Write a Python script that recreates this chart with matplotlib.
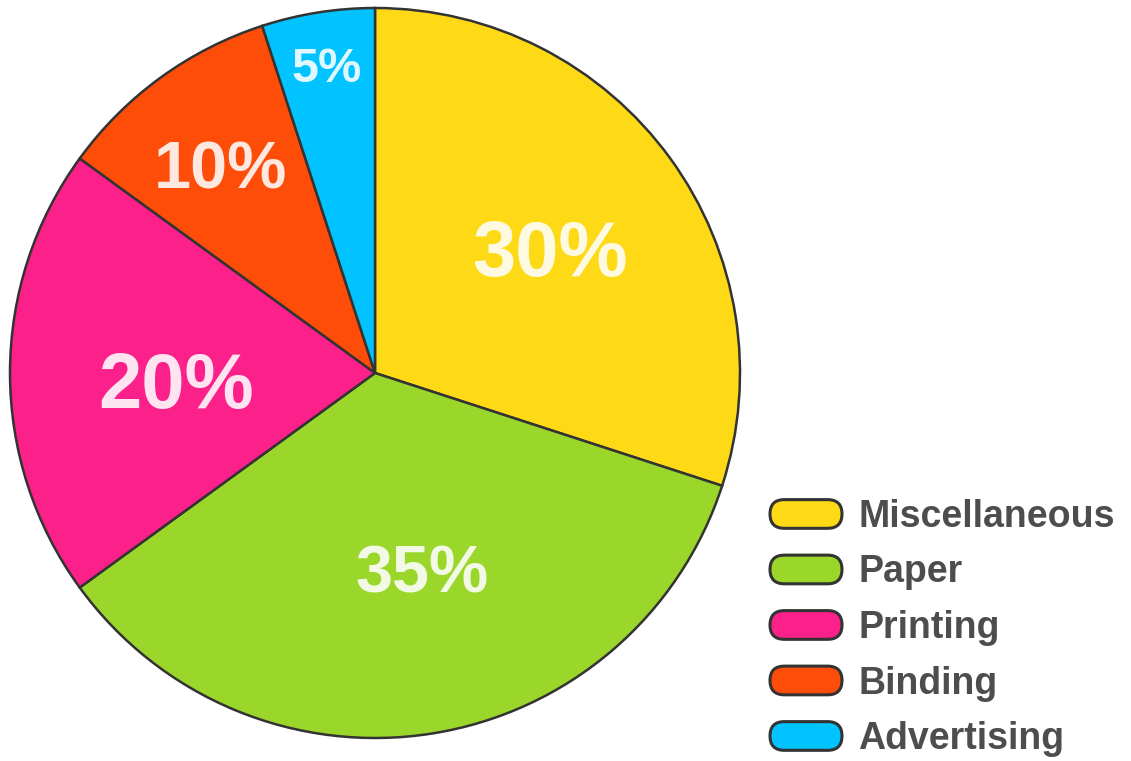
import numpy as np
import matplotlib
matplotlib.use('Agg')
import matplotlib.pyplot as plt
from matplotlib.patches import FancyBboxPatch, Wedge
from matplotlib.legend_handler import HandlerPatch

#################### data ####################
categories = ['Miscellaneous', 'Paper', 'Printing', 'Binding', 'Advertising']
shares = [30, 35, 20, 10, 5]    # percent of total cost
colors = ['#FDD916', '#9BD62B', '#FC218A', '#FE4D09', '#00C3FF']

# label placement: distance from centre (fraction of radius), angle shift (deg), font size (pt)
label_r = [0.59, 0.55, 0.545, 0.71, 0.855]
label_shift = [-0.5, 4.6, 2.0, 0.5, 0.0]
label_size = [56, 48, 56, 48, 35]

plt.rcParams['font.family'] = ['Liberation Sans', 'DejaVu Sans']


class HandlerPill(HandlerPatch):
    # rounded "pill" legend keys instead of plain rectangles
    def create_artists(self, legend, orig_handle, xdescent, ydescent,
                       width, height, fontsize, trans):
        p = FancyBboxPatch((-xdescent, -ydescent), width, height,
                           boxstyle='round,pad=0,rounding_size=%f' % (height / 2))
        self.update_prop(p, orig_handle, legend)
        p.set_linewidth(2.2)
        p.set_transform(trans)
        return [p]


fig = plt.figure(figsize=(11.31, 7.61), dpi=100)
ax = fig.add_axes([10/1131, 23/761, 730/1131, 730/761])

wedges, _ = ax.pie(shares, colors=colors, startangle=90, counterclock=False,
                   wedgeprops=dict(edgecolor='#333333', linewidth=1.8))
for w in wedges:
    w.set_clip_on(False)
ax.set_xlim(-1, 1)
ax.set_ylim(-1, 1)
ax.set_aspect('equal')
ax.axis('off')

for w, pct, r, dth, fs in zip(wedges, shares, label_r, label_shift, label_size):
    th = np.deg2rad((w.theta1 + w.theta2) / 2 + dth)
    ax.text(r*np.cos(th), r*np.sin(th), '{0}%'.format(pct), ha='center', va='center_baseline',
            fontsize=fs, fontweight='bold', color='white', alpha=0.88)

leg = fig.legend(wedges, categories, loc='upper left', bbox_to_anchor=(770/1131, 1 - 499/761),
                 frameon=False, fontsize=27, borderpad=0, borderaxespad=0,
                 handlelength=1.92, handleheight=0.8, handletextpad=0.43, labelspacing=0.52,
                 handler_map={Wedge: HandlerPill()})
for t in leg.get_texts():
    t.set_color('#4D4D4D')
    t.set_fontweight('bold')

fig.savefig('out.png', dpi=100)
